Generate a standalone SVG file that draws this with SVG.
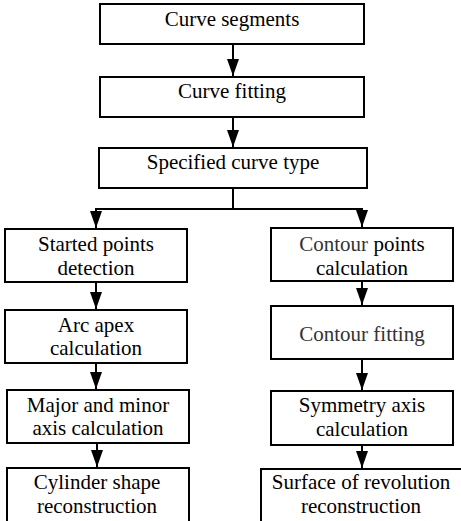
<svg xmlns="http://www.w3.org/2000/svg" width="461" height="521" viewBox="0 0 461 521">
<style>
.box{fill:#fff;stroke:#000;stroke-width:2}
.t{font-family:"Liberation Serif","Times New Roman",serif;font-size:21px;fill:#000;text-anchor:middle}
.g{fill:#333}
.c{fill:none;stroke:#000;stroke-width:2}
</style>
<defs>
<marker id="ah" markerUnits="userSpaceOnUse" markerWidth="17" markerHeight="12" viewBox="0 0 17 12" refX="17" refY="6" orient="auto">
<path d="M0,0 L17,6 L0,12 z" fill="#000"/>
</marker>
</defs>
<rect width="461" height="521" fill="#fff"/>
<g id="connectors">
<path class="c" d="M233,44 V76" marker-end="url(#ah)"/>
<path class="c" d="M233,117 V147" marker-end="url(#ah)"/>
<path class="c" d="M233,188 V209 M95,209 H363"/>
<path class="c" d="M96,209 V228" marker-end="url(#ah)"/>
<path class="c" d="M362,209 V227" marker-end="url(#ah)"/>
<path class="c" d="M96,282 V309" marker-end="url(#ah)"/>
<path class="c" d="M96,363 V389" marker-end="url(#ah)"/>
<path class="c" d="M97,443 V467" marker-end="url(#ah)"/>
<path class="c" d="M362,281 V305" marker-end="url(#ah)"/>
<path class="c" d="M362,359 V390" marker-end="url(#ah)"/>
<path class="c" d="M362,445 V468" marker-end="url(#ah)"/>
</g>
<g id="n1"><rect class="box" x="100" y="4" width="264" height="40"/><text class="t" x="232" y="26">Curve segments</text></g>
<g id="n2"><rect class="box" x="100" y="77" width="264" height="40"/><text class="t" x="232" y="98">Curve fitting</text></g>
<g id="n3"><rect class="box" x="99" y="148" width="268" height="40"/><text class="t" x="233" y="169">Specified curve type</text></g>
<g id="n4"><rect class="box" x="5" y="229" width="182" height="53"/><text class="t" x="96" y="251">Started points</text><text class="t" x="96" y="275">detection</text></g>
<g id="n5"><rect class="box" x="5" y="310" width="182" height="53"/><text class="t" x="96" y="332">Arc apex</text><text class="t" x="96" y="355">calculation</text></g>
<g id="n6"><rect class="box" x="7" y="390" width="182" height="53"/><text class="t" x="98" y="412">Major and minor</text><text class="t" x="98" y="435">axis calculation</text></g>
<g id="n7"><rect class="box" x="7" y="468" width="182" height="60"/><text class="t" x="97" y="489">Cylinder shape</text><text class="t" x="97" y="513">reconstruction</text></g>
<g id="n8"><rect class="box" x="271" y="228" width="182" height="53"/><text class="t" x="362" y="251"><tspan class="g">Contour</tspan> points</text><text class="t" x="362" y="275">calculation</text></g>
<g id="n9"><rect class="box" x="271" y="306" width="182" height="53"/><text class="t g" x="362" y="341">Contour fitting</text></g>
<g id="n10"><rect class="box" x="271" y="391" width="182" height="54"/><text class="t" x="362" y="412">Symmetry axis</text><text class="t" x="362" y="436">calculation</text></g>
<g id="n11"><rect class="box" x="261" y="469" width="210" height="60"/><text class="t" x="361" y="489">Surface of revolution</text><text class="t" x="361" y="513">reconstruction</text></g>
</svg>
